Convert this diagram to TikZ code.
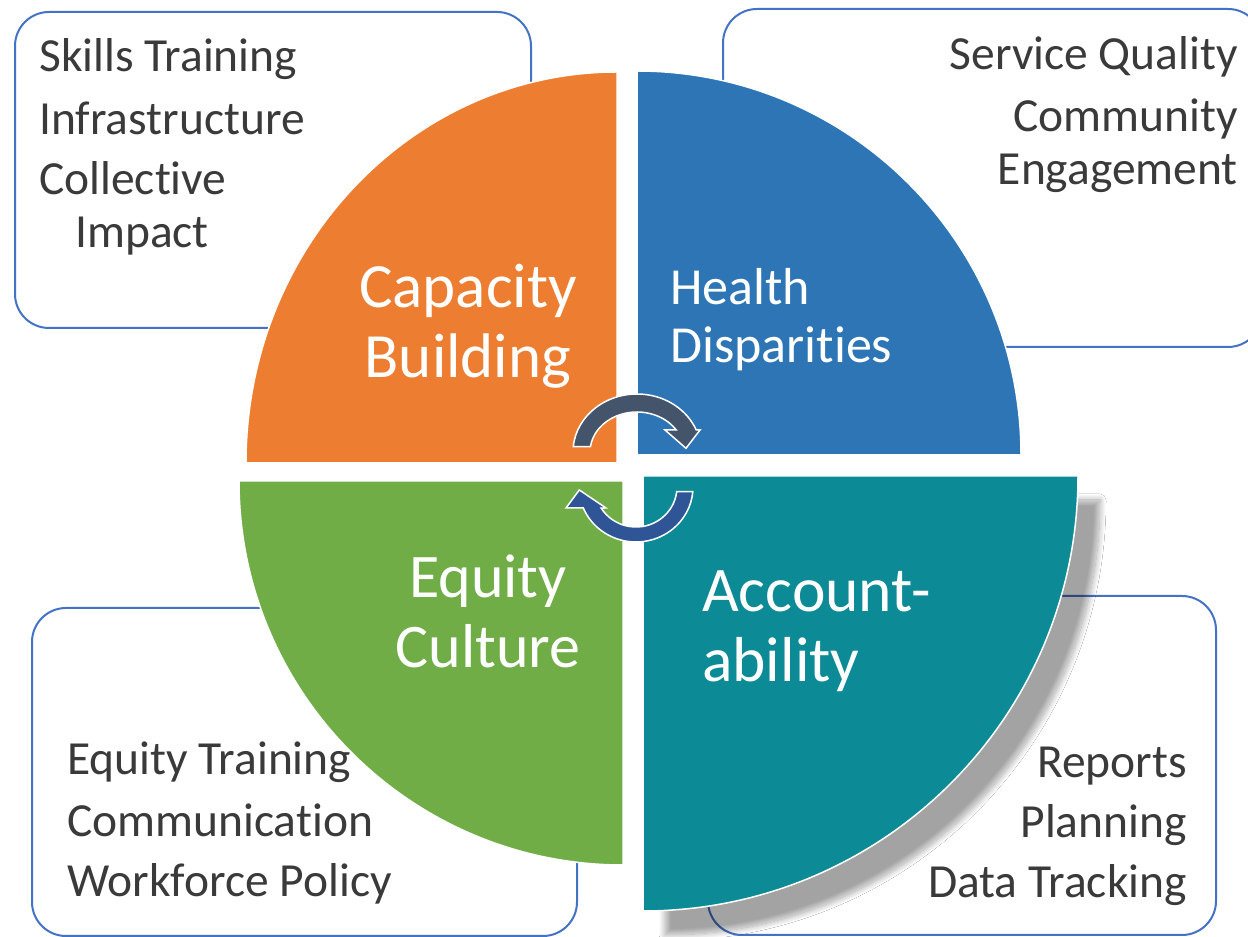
\documentclass[tikz,border=0pt]{standalone}
\usepackage{fontspec}
\setmainfont{Carlito}[Ligatures=NoCommon]
\usepackage{tikz}
\usetikzlibrary{calc,shadows.blur}
\definecolor{capacityorange}{HTML}{ED7D31}
\definecolor{healthblue}{HTML}{2E75B6}
\definecolor{equitygreen}{HTML}{70AD47}
\definecolor{accountteal}{HTML}{0C8A96}
\definecolor{boxblue}{HTML}{4472C4}
\definecolor{textgray}{HTML}{3A3A3A}
\definecolor{arrowslate}{HTML}{44546A}
\definecolor{arrowblue}{HTML}{2F5597}

\begin{document}
\begin{tikzpicture}[x=1pt,y=1pt,
  infobox/.style={draw=boxblue,line width=2pt,rounded corners=34pt},
  quad/.style={draw=white,line width=1.5pt},
  infotext/.style={inner sep=0pt,text=textgray,font=\fontsize{47.5}{53}\selectfont},
  quadtext/.style={inner sep=0pt,text=white},
  cyclearrow/.style={draw=white,line width=1.5pt,line join=miter}]
\clip (0,0) rectangle (1248,937);
\fill[white] (0,0) rectangle (1248,937);
\draw[infobox] (15,609) rectangle (531,925);
\draw[infobox] (723,590) rectangle (1262,928);
\draw[infobox] (32,1) rectangle (577,329);
\draw[infobox] (708,2) rectangle (1216,341);
\filldraw[quad,fill=capacityorange] (617,474) -- (246,474) arc[start angle=180,end angle=90,x radius=371,y radius=391] -- cycle;
\filldraw[quad,fill=healthblue] (637,482) -- (637,866) arc[start angle=90,end angle=0,radius=384] -- cycle;
\filldraw[quad,fill=equitygreen] (623,456) -- (239,456) arc[start angle=180,end angle=270,radius=384] -- cycle;
\filldraw[quad,fill=accountteal,blur shadow={shadow xshift=22pt,shadow yshift=-24pt,shadow blur radius=6pt,shadow blur steps=16,shadow opacity=36}] (643,461) -- (1078,461) arc[start angle=0,end angle=-90,radius=435] -- cycle;
\coordinate (topc) at (637,485);
\coordinate (botc) at (636,450);
\filldraw[cyclearrow,fill=arrowslate] ([shift={(174.8:64 and 58)}]topc) arc[start angle=174.8,end angle=22.3,x radius=64,y radius=58] -- (700,507) -- (686,488.7) -- (665,507) -- ([shift={(33.4:47 and 40)}]topc) arc[start angle=33.4,end angle=172.4,x radius=47,y radius=40] -- cycle;
\filldraw[cyclearrow,fill=arrowblue] ([shift={(-4.9:57 and 55)}]botc) arc[start angle=-4.9,end angle=-157.6,x radius=57,y radius=55] -- (566,429) -- (579.3,447) -- (606,429) -- ([shift={(-148.3:41 and 40)}]botc) arc[start angle=-148.3,end angle=-6.75,x radius=41,y radius=40] -- cycle;
\node[quadtext,align=center,anchor=base,font=\fontsize{63}{70}\selectfont] (capacity) at (468,559) {Capacity\\Building};
\node[quadtext,align=left,anchor=base west,font=\fontsize{52}{58}\selectfont] (health) at (670,574) {Health\\Disparities};
\node[quadtext,align=center,anchor=base,font=\fontsize{62}{70}\selectfont] (equity) at (488,269) {Equity\\Culture};
\node[quadtext,align=left,anchor=base west,font=\fontsize{63.5}{70}\selectfont] (account) at (702,255) {Account-\\ability};
\node[infotext,align=left,anchor=base west] (skills) at (39,689) {Skills Training\\[10pt]Infrastructure\\[7pt]Collective\\\hspace*{36pt}Impact};
\node[infotext,align=right,anchor=base east] (service) at (1238,752) {Service Quality\\[9pt]Community\\Engagement};
\node[infotext,align=left,anchor=base west] (training) at (67,40) {Equity Training\\[9pt]Communication\\[7pt]Workforce Policy};
\node[infotext,align=right,anchor=base east] (reports) at (1187,39) {Reports\\[7pt]Planning\\[7pt]Data Tracking};
\end{tikzpicture}
\end{document}
